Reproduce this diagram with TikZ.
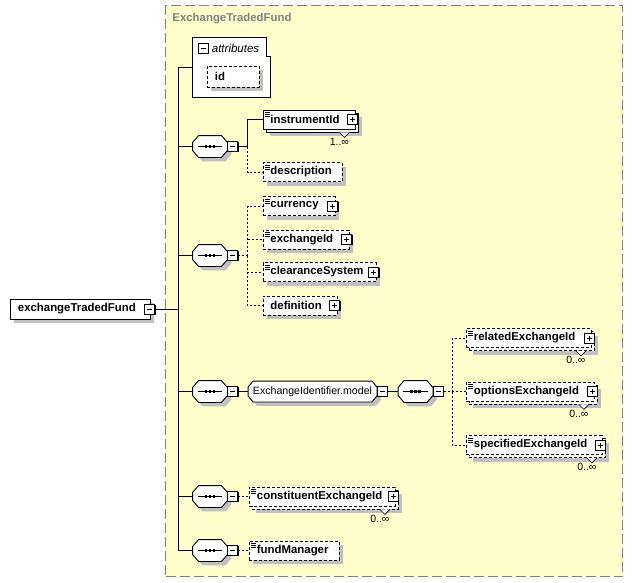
\documentclass[tikz,border=0pt]{standalone}
\usepackage{fontspec}
\setmainfont{Liberation Sans}
\usepackage{tikz}
\usetikzlibrary{shadows, positioning}

\definecolor{groupfill}{RGB}{255,255,204}
\definecolor{groupline}{RGB}{128,128,128}
\definecolor{shade}{RGB}{192,192,192}
\hyphenpenalty=10000

\begin{document}
\begin{tikzpicture}[x=1pt, y=-1pt, line width=0.9pt]
    \tikzstyle{elbox}=[rectangle, draw, fill=white, inner xsep=7.5pt, inner ysep=0pt, minimum height=19pt, align=left, anchor=west, font=\fontsize{11.4}{12}\selectfont\bfseries]
    \tikzstyle{shadowed}=[general shadow={fill=shade, shadow xshift=4pt, shadow yshift=-4pt}]
    \tikzstyle{many}=[general shadow={fill=shade, shadow xshift=7pt, shadow yshift=-7pt}, general shadow={draw, fill=white, solid, shadow xshift=3pt, shadow yshift=-3pt}]
    \tikzstyle{manyopt}=[general shadow={fill=shade, shadow xshift=7pt, shadow yshift=-7pt}, general shadow={draw, fill=white, dash pattern=on 3pt off 2pt, shadow xshift=3pt, shadow yshift=-3pt}]
    \tikzstyle{opt}=[dash pattern=on 3pt off 2pt]
    \tikzstyle{optline}=[dash pattern=on 2pt off 2pt]
    \tikzstyle{doc}=[path picture={\foreach \k in {2.5,4.5,6.5} \draw[solid, line width=0.6pt] ([xshift=2pt, yshift=-\k pt]path picture bounding box.north west) -- ++(5pt,0pt);}]
    \tikzstyle{pmbox}=[rectangle, draw, solid, fill=white, minimum size=10pt, inner sep=0pt, general shadow={fill=black, shadow xshift=0.9pt, shadow yshift=-0.9pt}]
    \tikzstyle{minusbox}=[pmbox, path picture={\draw ([xshift=2.5pt]path picture bounding box.west) -- ([xshift=-2.5pt]path picture bounding box.east);}]
    \tikzstyle{plusbox}=[pmbox, path picture={\draw ([xshift=2.5pt]path picture bounding box.west) -- ([xshift=-2.5pt]path picture bounding box.east); \draw ([yshift=2.5pt]path picture bounding box.south) -- ([yshift=-2.5pt]path picture bounding box.north);}]
    \tikzstyle{seq}=[rectangle, minimum width=34pt, minimum height=21pt, inner sep=0pt]
    \tikzstyle{model}=[rectangle, minimum width=128pt, minimum height=20pt, inner sep=0pt]
    \tikzstyle{mult}=[anchor=east, inner sep=0pt, font=\fontsize{10.5}{12}\selectfont]
    \tikzstyle{notch}=[fill=white, line width=0.6pt]

    \path[use as bounding box, fill=white] (0,0) rectangle (632,582);

    \node[draw=groupline, fill=groupfill, dash pattern=on 10pt off 4pt, line width=1.2pt, minimum width=457pt, minimum height=571pt, inner sep=0pt, anchor=north west] (etf) at (165,5) {};
    \node[anchor=west, inner sep=0pt, text=groupline, font=\fontsize{11.4}{12}\selectfont\bfseries] (etf-title) at (172,19) {ExchangeTradedFund};

    \node[elbox, shadowed, text width=125pt, minimum height=20pt] (root) at (10,309) {exchangeTradedFund};
    \node[minusbox] (root-minus) at ([xshift=-1pt]root.east) {};
    \coordinate (trunk) at (178,309);

    \node[inner sep=0pt, minimum width=77pt, minimum height=59pt] (attrs) at (231.5,67.5) {};
    \filldraw[fill=white] (attrs.north west) -- ([xshift=-4pt]attrs.north east) -- ([xshift=-4pt,yshift=-19pt]attrs.north east) -- ([yshift=-19pt]attrs.north east) -- (attrs.south east) -- (attrs.south west) -- cycle;
    \node[minusbox, anchor=north west] (attrs-minus) at ([xshift=5pt,yshift=-5pt]attrs.north west) {};
    \node[anchor=west, inner sep=0pt, font=\fontsize{11.5}{12}\selectfont\itshape] (attrs-label) at ([xshift=3pt]attrs-minus.east) {attributes};
    \node[elbox, opt, shadowed, text width=37pt, minimum height=21pt] (id) at (207,76.5) {id};

    \foreach \s/\x/\y in {s1/210/146.5,s2/210/255.5,s3/210/391.5,s4/415.5/391.5,s5/210/496.5,s6/210/550.5} {
        \node[seq] (\s) at (\x,\y) {};
        \filldraw[fill=white, shadowed] ([xshift=6pt]\s.north west) -- ([xshift=-6pt]\s.north east) -- ([yshift=-7pt]\s.north east) -- ([yshift=7pt]\s.south east) -- ([xshift=-6pt]\s.south east) -- ([xshift=6pt]\s.south west) -- ([yshift=7pt]\s.south west) -- ([yshift=-7pt]\s.north west) -- cycle;
        \draw ([xshift=5pt]\s.west) -- ([xshift=-5pt]\s.east);
        \foreach \d in {-4,0,4}
            \fill ([xshift=\d pt]\s.center) ++(-1.3pt,-1.3pt) rectangle ++(2.6pt,2.6pt);
        \node[minusbox, anchor=west] (\s-minus) at (\s.east) {};
    }

    \node[model] (model) at (312.5,391.5) {};
    \filldraw[fill=white, shadowed] ([xshift=5pt]model.north west) -- ([xshift=-5pt]model.north east) -- ([yshift=-6pt]model.north east) -- ([yshift=6pt]model.south east) -- ([xshift=-5pt]model.south east) -- ([xshift=5pt]model.south west) -- ([yshift=6pt]model.south west) -- ([yshift=-6pt]model.north west) -- cycle;
    \node[inner sep=0pt, font=\fontsize{10.6}{12}\selectfont] (model-label) at (model.center) {ExchangeIdentifier.model};
    \node[minusbox, anchor=west] (model-minus) at (model.east) {};

    \node[elbox, doc, many, text width=77pt] (instrumentId) at (262.5,119.5) {instrumentId};
    \node[elbox, doc, opt, shadowed, text width=64pt] (description) at (262.5,172) {description};
    \node[elbox, doc, opt, shadowed, text width=57pt] (currency) at (262.5,206) {currency};
    \node[elbox, doc, opt, shadowed, text width=71pt] (exchangeId) at (262.5,239.5) {exchangeId};
    \node[elbox, doc, opt, shadowed, text width=98pt] (clearanceSystem) at (262.5,272) {clearanceSystem};
    \node[elbox, opt, shadowed, text width=59pt] (definition) at (262.5,305.5) {definition};
    \node[elbox, doc, opt, manyopt, text width=110pt] (relatedExchangeId) at (466,338) {relatedExchangeId};
    \node[elbox, doc, opt, manyopt, text width=113pt] (optionsExchangeId) at (466,391.5) {optionsExchangeId};
    \node[elbox, doc, opt, manyopt, text width=121pt] (specifiedExchangeId) at (466,445) {specifiedExchangeId};
    \node[elbox, doc, opt, manyopt, text width=131pt] (constituentExchangeId) at (249,496.5) {constituentExchangeId};
    \node[elbox, doc, opt, shadowed, text width=75pt] (fundManager) at (249,550.5) {fundManager};

    \foreach \e in {instrumentId,currency,exchangeId,clearanceSystem,definition,relatedExchangeId,optionsExchangeId,specifiedExchangeId,constituentExchangeId}
        \node[plusbox] (\e-plus) at ([xshift=-2.5pt]\e.east) {};
    \foreach \e/\m in {instrumentId/1,relatedExchangeId/0,optionsExchangeId/0,specifiedExchangeId/0,constituentExchangeId/0} {
        \draw[notch] ([xshift=-16pt,yshift=-3pt]\e.south east) -- ++(5pt,-5pt) -- ++(5pt,5pt);
        \node[mult] (\e-mult) at ([xshift=-6pt,yshift=-12pt]\e.south east) {\m..∞};
    }

    \draw (root-minus) -- (trunk);
    \draw (trunk) |- (attrs.west);
    \foreach \s in {s1,s2,s3,s5,s6}
        \draw (trunk) |- (\s.west);

    \coordinate (b1) at (247.5,146.5);
    \draw (s1-minus) -- (b1) |- (instrumentId.west);
    \draw[optline] (b1) |- (description.west);

    \coordinate (b2) at (247.5,255.5);
    \draw[optline] (s2-minus) -- (b2);
    \foreach \e in {currency,exchangeId,clearanceSystem,definition}
        \draw[optline] (b2) |- (\e.west);

    \draw (s3-minus) -- (model);
    \draw (model-minus) -- (s4);
    \coordinate (b4) at (452,391.5);
    \draw[optline] (s4-minus) -- (b4);
    \foreach \e in {relatedExchangeId,optionsExchangeId,specifiedExchangeId}
        \draw[optline] (b4) |- (\e.west);

    \draw[optline] (s5-minus) -- (constituentExchangeId.west);
    \draw[optline] (s6-minus) -- (fundManager.west);
\end{tikzpicture}
\end{document}
